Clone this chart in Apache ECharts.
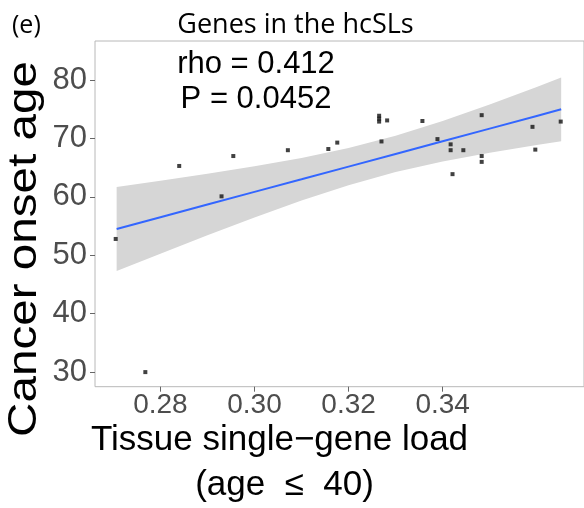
<!DOCTYPE html>
<html>
<head>
<meta charset="utf-8">
<script src="https://cdn.jsdelivr.net/npm/echarts@6/dist/echarts.min.js"></script>
<style>
html,body{margin:0;padding:0;background:#fff;}
#chart{width:584px;height:508px;}
</style>
</head>
<body>
<div id="chart"></div>
<script>
// Scatter points: tissue single-gene load (age <= 40) vs cancer onset age
var loadX = [0.2705, 0.2768, 0.2840, 0.2930, 0.2955, 0.3071, 0.3157, 0.3176,
             0.3265, 0.3265, 0.3265, 0.3282, 0.3270, 0.3357, 0.3389, 0.3417,
             0.3417, 0.3421, 0.3444, 0.3483, 0.3483, 0.3483, 0.3591, 0.3597, 0.3651];
var onsetAge = [52.8, 30.0, 65.3, 60.1, 67.0, 68.0, 68.2, 69.3,
                73.9, 73.4, 72.9, 73.1, 69.5, 73.0, 69.9, 69.0,
                68.0, 63.9, 68.0, 74.0, 67.0, 66.0, 72.0, 68.1, 72.9];

// Fitted line and confidence band
var fitX     = [0.2707, 0.28, 0.29, 0.30, 0.31, 0.32, 0.33, 0.34, 0.35, 0.36, 0.3652];
var fitY     = [54.5, 56.52, 58.69, 60.86, 63.02, 65.19, 67.36, 69.53, 71.70, 73.87, 75.0];
var bandLow  = [47.3, 50.28, 53.43, 56.49, 59.38, 62.01, 64.25, 66.07, 67.58, 68.91, 69.55];
var bandHigh = [61.7, 62.76, 63.95, 65.23, 66.66, 68.37, 70.47, 72.99, 75.82, 78.83, 80.45];

// Tick labels
var xTicks = [0.28, 0.30, 0.32, 0.34];
var yTicks = [30, 40, 50, 60, 70, 80];

var titleText = 'Genes in the hcSLs';
var panelTag = '(e)';
var statLines = ['rho = 0.412', 'P = 0.0452'];
var xTitle = ['Tissue single\u2212gene load', '(age  \u2264  40)'];
var yTitle = 'Cancer onset age';

var points = loadX.map(function (x, i) { return [x, onsetAge[i]]; });
var fitLine = fitX.map(function (x, i) { return [x, fitY[i]]; });
var band = fitX.map(function (x, i) { return [x, bandLow[i], bandHigh[i]]; });

var chart = echarts.init(document.getElementById('chart'), null, {renderer: 'canvas'});
var sans = '"Liberation Sans", Arial, Helvetica, sans-serif';

function txt(o) {
  return {
    type: 'text', x: o.x, y: o.y, rotation: o.rotation || 0,
    scaleX: o.scaleX || 1, scaleY: o.scaleY || 1, silent: true,
    style: {
      text: o.text, x: 0, y: 0,
      font: o.font,
      fill: o.fill || '#000',
      align: o.align || 'center', textAlign: o.align || 'center',
      verticalAlign: 'middle', textVerticalAlign: 'middle'
    }
  };
}

chart.setOption({
  animation: false,
  backgroundColor: '#fff',
  grid: {left: 95, top: 41, width: 492, height: 345.7, show: true,
         borderColor: '#b8b8b8', borderWidth: 1, backgroundColor: 'transparent'},
  xAxis: {
    type: 'value', min: 0.2661, max: 0.37005,
    axisLine: {show: false},
    splitLine: {show: false},
    axisTick: {show: true, length: 5, lineStyle: {color: '#666', width: 1}, customValues: xTicks},
    axisLabel: {show: true, customValues: xTicks, margin: 5, color: '#4d4d4d',
                fontSize: 28, fontFamily: sans,
                formatter: function (v) { return v.toFixed(2); }}
  },
  yAxis: {
    type: 'value', min: 27.5, max: 86.7,
    axisLine: {show: false},
    splitLine: {show: false},
    axisTick: {show: true, length: 5, lineStyle: {color: '#666', width: 1}, customValues: yTicks},
    axisLabel: {show: true, customValues: yTicks, margin: 8, color: '#4d4d4d',
                fontSize: 31, fontFamily: sans}
  },
  series: [
    {
      type: 'custom', z: 1, silent: true,
      data: [0],
      renderItem: function (params, api) {
        var pts = [];
        for (var i = 0; i < band.length; i++) pts.push(api.coord([band[i][0], band[i][2]]));
        for (var j = band.length - 1; j >= 0; j--) pts.push(api.coord([band[j][0], band[j][1]]));
        return {type: 'polygon', shape: {points: pts}, style: {fill: '#d6d6d6', stroke: null}};
      }
    },
    {
      type: 'line', z: 2, data: fitLine, showSymbol: false, smooth: false, silent: true,
      lineStyle: {color: '#3366FF', width: 2}
    },
    {
      type: 'scatter', z: 3, data: points, symbol: 'rect', symbolSize: 4, silent: true,
      itemStyle: {color: '#111'}
    }
  ],
  graphic: [
    txt({text: panelTag, x: 12, y: 26, align: 'left', font: '25px "Open Sans", sans-serif'}),
    txt({text: titleText, x: 295.5, y: 25, font: '27px "Open Sans", sans-serif'}),
    txt({text: statLines[0], x: 256, y: 64, font: '31px ' + sans}),
    txt({text: statLines[1], x: 256, y: 99, font: '31px ' + sans}),
    txt({text: xTitle[0], x: 279.5, y: 440, font: '35px ' + sans}),
    txt({text: xTitle[1], x: 284.5, y: 485, font: '35px ' + sans}),
    txt({text: yTitle, x: 25, y: 249, rotation: Math.PI / 2, scaleX: 1.19, font: '40px ' + sans})
  ]
});
</script>
</body>
</html>
